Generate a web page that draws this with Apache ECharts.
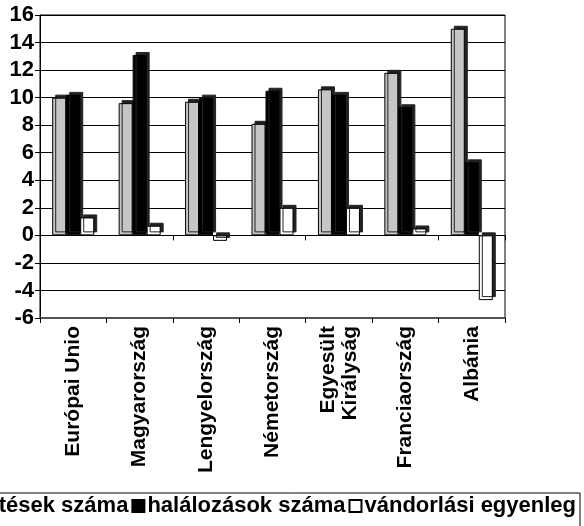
<!DOCTYPE html>
<html>
<head>
<meta charset="utf-8">
<script src="https://cdn.jsdelivr.net/npm/echarts@6/dist/echarts.min.js"></script>
<style>html,body{margin:0;padding:0;background:#fff;}#c{width:584px;height:526px;}</style>
</head>
<body>
<div id="c"></div>
<script>
var categories = ['Európai Unio', 'Magyarország', 'Lengyelország', 'Németország', 'Egyesült\nKirályság', 'Franciaország', 'Albánia'];
var seriesNames = ['születések száma', 'halálozások száma', 'vándorlási egyenleg'];
var births = [10.0, 9.6, 9.7, 8.1, 10.6, 11.8, 15.0];
var deaths = [10.2, 13.1, 10.0, 10.5, 10.2, 9.3, 5.3];
var migration = [1.3, 0.7, -0.4, 2.0, 2.0, 0.5, -4.7];
var yTicks = {min: -6, max: 16, interval: 2};

var FONT = 'Arial, "Liberation Sans", sans-serif';
var chart = echarts.init(document.getElementById('c'), null, {renderer: 'canvas'});
function bar(name, data, color, border) {
  return {
    name: name, type: 'bar', data: data, barWidth: 14, barGap: '0%',
    xAxisIndex: 0,
    itemStyle: {color: color, borderColor: border, borderWidth: 1,
      shadowColor: '#222', shadowOffsetX: 3, shadowOffsetY: -3, shadowBlur: 0},
    emphasis: {disabled: true}
  };
}
chart.setOption({
  animation: false,
  backgroundColor: '#fff',
  grid: {left: 40, right: 79, top: 15, bottom: 208, show: true, borderColor: '#000', borderWidth: 1},
  legend: {
    right: 4, top: 493, width: 1200, padding: [2, 4, 12, 5],
    borderColor: '#000', borderWidth: 1, itemGap: 3,
    itemWidth: 12, itemHeight: 12, icon: 'rect',
    textStyle: {fontFamily: FONT, fontWeight: 'bold', fontSize: 22, color: '#000', padding: [0, 0, 0, -2]},
    data: seriesNames
  },
  xAxis: [{
    type: 'category', data: categories, position: 'bottom',
    axisLine: {onZero: false, lineStyle: {color: '#555', width: 2}},
    axisTick: {show: true, length: 5, lineStyle: {color: '#000'}},
    axisLabel: {rotate: 90, fontFamily: FONT, fontWeight: 'bold', fontSize: 21, color: '#000', margin: 8, lineHeight: 22}
  }, {
    type: 'category', data: categories, position: 'bottom',
    axisLine: {onZero: true, lineStyle: {color: '#000', width: 1}},
    axisTick: {show: true, length: 5, lineStyle: {color: '#000'}},
    axisLabel: {show: false}
  }],
  yAxis: {
    type: 'value', min: yTicks.min, max: yTicks.max, interval: yTicks.interval,
    axisLine: {show: true, lineStyle: {color: '#000'}},
    axisTick: {show: true, length: 5, lineStyle: {color: '#000'}},
    axisLabel: {fontFamily: FONT, fontWeight: 'bold', fontSize: 22, color: '#000', margin: 6},
    splitLine: {show: true, lineStyle: {color: '#000', width: 1}}
  },
  series: [
    bar(seriesNames[0], births, '#c6c6c6', '#000'),
    bar(seriesNames[1], deaths, '#000', '#000'),
    bar(seriesNames[2], migration, '#fff', '#000')
  ]
});
</script>
</body>
</html>
